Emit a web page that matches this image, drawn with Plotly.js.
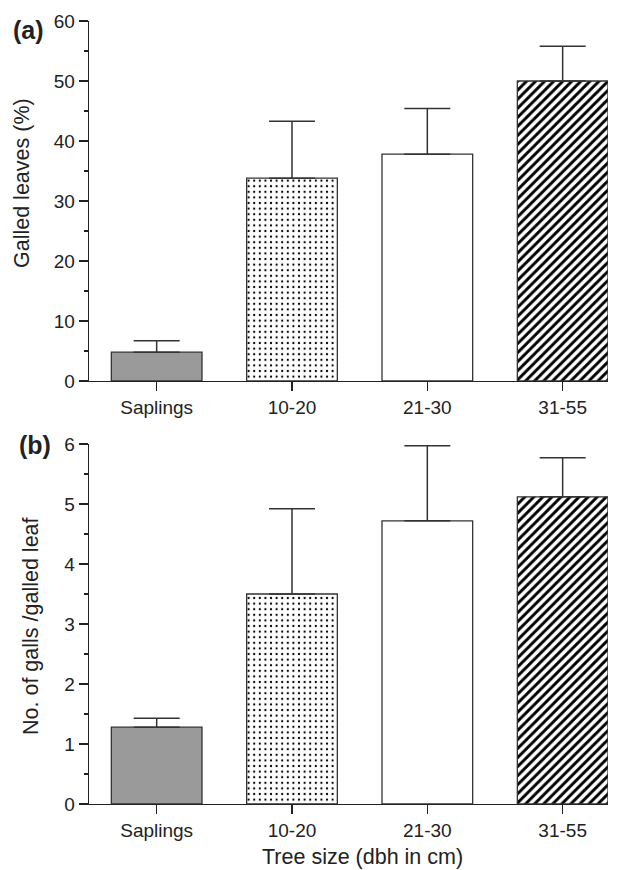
<!DOCTYPE html>
<html>
<head>
<meta charset="utf-8">
<script src="https://cdn.plot.ly/plotly-3.0.1.min.js"></script>
<style>html,body{margin:0;padding:0;background:#fff;}#chart{width:620px;height:870px;}</style>
</head>
<body>
<div id="chart"></div>
<script>
// ---- data ----
var categories = ['Saplings', '10-20', '21-30', '31-55'];
var galledLeavesPct = [4.8, 33.8, 37.8, 50.0];
var galledLeavesSE = [1.9, 9.5, 7.6, 5.8];
var gallsPerLeaf = [1.28, 3.5, 4.72, 5.12];
var gallsPerLeafSE = [0.15, 1.42, 1.25, 0.65];
var panelLabels = ['(a)', '(b)'];
var yTitleA = 'Galled leaves (%)';
var yTitleB = 'No. of galls /galled leaf';
var xTitle = 'Tree size (dbh in cm)';

// ---- style ----
var FONT = 'Liberation Sans, Arial, Helvetica, sans-serif';
var INK = '#222';
var W = 620, H = 870;
var M = {l: 89, r: 12, t: 21, b: 66};
var plotW = W - M.l - M.r, plotH = H - M.t - M.b;
function px2x(px) { return (px - M.l) / plotW; }
function px2y(py) { return (H - M.b - py) / plotH; }

var fills = ['#9a9a9a', '#ffffff', '#ffffff', '#ffffff'];
var patShapes = ['', '.', '', '/'];
var patSizes = [8, 5.6, 8, 6.4];
var patSolid = [0.3, 0.12, 0.3, 0.46];

function barTraces(vals, se, xa, ya) {
  var out = [];
  for (var i = 0; i < categories.length; i++) {
    out.push({
      type: 'bar', x: [categories[i]], y: [vals[i]], xaxis: xa, yaxis: ya,
      width: 0.67,
      marker: {
        color: fills[i],
        line: {color: '#333', width: 1.3},
        pattern: {shape: patShapes[i], size: patSizes[i], solidity: patSolid[i], fgcolor: '#000', fillmode: 'replace'}
      },
      error_y: {type: 'data', symmetric: false, array: [se[i]], arrayminus: [0],
                width: 23, thickness: 1.5, color: '#333'},
      hoverinfo: 'skip', showlegend: false
    });
  }
  return out;
}

var data = barTraces(galledLeavesPct, galledLeavesSE, 'x', 'y')
  .concat(barTraces(gallsPerLeaf, gallsPerLeafSE, 'x2', 'y2'));

function xax(anchor) {
  return {
    anchor: anchor, domain: [0, 1], type: 'category', categoryarray: categories, categoryorder: 'array',
    range: [-0.5, 3.335],
    showline: true, linecolor: INK, linewidth: 1.3, mirror: false,
    ticks: 'outside', ticklen: 9, tickwidth: 1.3, tickcolor: INK,
    tickfont: {family: FONT, size: 19, color: INK},
    showgrid: false, zeroline: false, fixedrange: true
  };
}
function yax(anchor, domain, range, dtick) {
  return {
    anchor: anchor, domain: domain, range: range, dtick: dtick, tick0: 0,
    showline: true, linecolor: INK, linewidth: 1.3,
    ticks: 'outside', ticklen: 9, tickwidth: 1.3, tickcolor: INK,
    minor: {dtick: dtick / 2, ticks: 'outside', ticklen: 4, tickwidth: 1.3, tickcolor: INK, showgrid: false},
    tickfont: {family: FONT, size: 19, color: INK},
    showgrid: false, zeroline: false, fixedrange: true
  };
}

var layout = {
  width: W, height: H, margin: M, barmode: 'overlay',
  paper_bgcolor: '#fff', plot_bgcolor: 'rgba(0,0,0,0)',
  font: {family: FONT, color: INK},
  xaxis: xax('y'),
  xaxis2: xax('y2'),
  yaxis: yax('x', [px2y(381), 1], [0, 60], 10),
  yaxis2: yax('x2', [0, px2y(444)], [0, 6], 1),
  annotations: [
    {text: '<b>' + panelLabels[0] + '</b>', xref: 'paper', yref: 'paper', x: px2x(28), y: px2y(30.5),
     xanchor: 'center', yanchor: 'middle', showarrow: false, font: {family: FONT, size: 25, color: INK}},
    {text: '<b>' + panelLabels[1] + '</b>', xref: 'paper', yref: 'paper', x: px2x(34.5), y: px2y(445),
     xanchor: 'center', yanchor: 'middle', showarrow: false, font: {family: FONT, size: 25, color: INK}},
    {text: yTitleA, textangle: -90, xref: 'paper', yref: 'paper', x: px2x(22), y: px2y(183),
     xanchor: 'center', yanchor: 'middle', showarrow: false, font: {family: FONT, size: 21.5, color: INK}},
    {text: yTitleB, textangle: -90, xref: 'paper', yref: 'paper', x: px2x(31), y: px2y(626),
     xanchor: 'center', yanchor: 'middle', showarrow: false, font: {family: FONT, size: 21.5, color: INK}},
    {text: xTitle, xref: 'paper', yref: 'paper', x: px2x(362), y: px2y(857),
     xanchor: 'center', yanchor: 'middle', showarrow: false, font: {family: FONT, size: 21.5, color: INK}}
  ]
};

Plotly.newPlot('chart', data, layout, {displayModeBar: false, staticPlot: true});
</script>
</body>
</html>
